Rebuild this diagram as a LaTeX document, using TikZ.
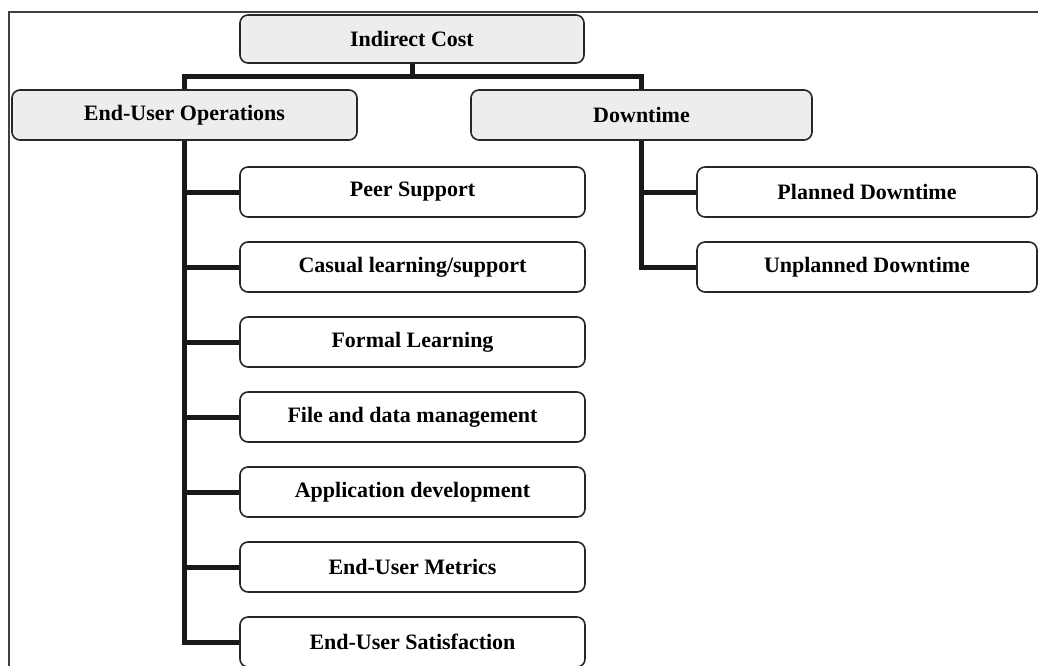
\documentclass[tikz,border=0pt]{standalone}
\usepackage{fontspec}
\setmainfont{Liberation Serif}
\begin{document}
\begin{tikzpicture}[x=1pt,y=-1pt,
  box/.style={draw=black!85, line width=1.6pt, rounded corners=8pt, fill=white,
    font=\bfseries\fontsize{22}{25}\selectfont, inner sep=0pt, align=center},
  topbox/.style={box, fill=black!7},
  leftbox/.style={box, minimum width=345pt, minimum height=50pt},
  rightbox/.style={box, minimum width=340pt, minimum height=50pt},
  link/.style={draw=black!90, line width=5pt, line join=miter, line cap=butt}
]
\useasboundingbox (0,0) rectangle (1038,665);
\clip (0,0) rectangle (1038,665);
% outer frame
\draw[line width=1.5pt, black!75] (9,12) rectangle (1070,700);

% top level
\node[topbox, minimum width=344pt, minimum height=48pt] (ic) at (412,39) {Indirect Cost};
\node[topbox, minimum width=345pt, minimum height=50pt] (euo) at (184.5,115) {End-User Operations};
\node[topbox, minimum width=341pt, minimum height=50pt] (dt) at (641.5,115) {Downtime};

% end-user operations children
\node[leftbox] (peer) at (412.5,192) {Peer Support};
\node[leftbox] (casual) at (412.5,267) {Casual learning/support};
\node[leftbox] (formal) at (412.5,342) {Formal Learning};
\node[leftbox] (file) at (412.5,417) {File and data management};
\node[leftbox] (app) at (412.5,492) {Application development};
\node[leftbox] (metrics) at (412.5,567) {End-User Metrics};
\node[leftbox] (satis) at (412.5,642) {End-User Satisfaction};

% downtime children
\node[rightbox] (planned) at (867,192) {Planned Downtime};
\node[rightbox] (unplanned) at (867,267) {Unplanned Downtime};

% connectors
\draw[link] (ic.south) -- ++(0,13) -| (euo.north);
\draw[link] (ic.south) -- ++(0,13) -| (dt.north);
\foreach \c in {peer,casual,formal,file,app,metrics,satis}
  \draw[link] (euo.south) |- (\c.west);
\foreach \c in {planned,unplanned}
  \draw[link] (dt.south) |- (\c.west);
\end{tikzpicture}
\end{document}
